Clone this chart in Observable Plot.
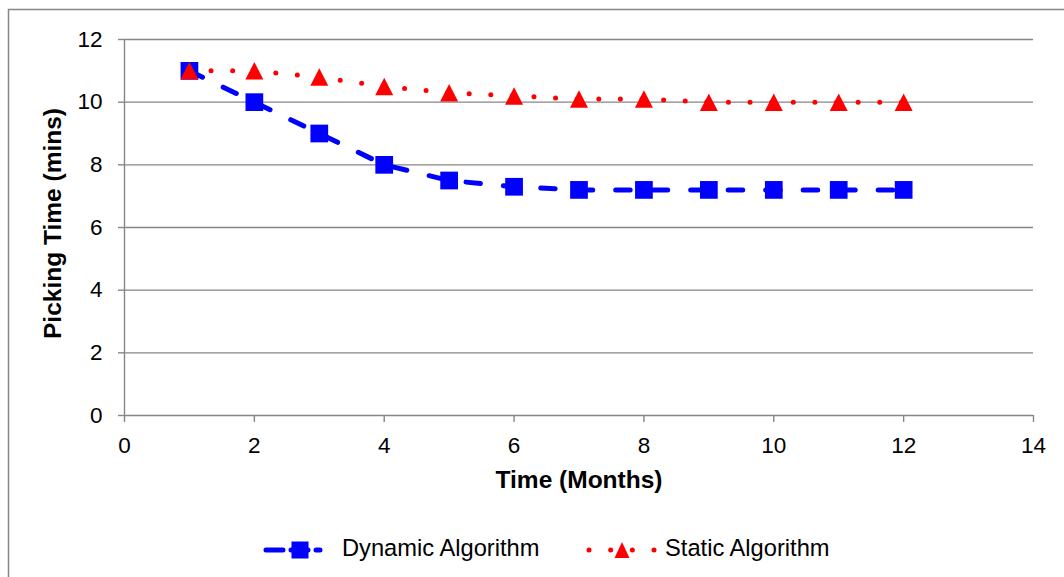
<!DOCTYPE html>
<html>
<head>
<meta charset="utf-8">
<script src="https://cdn.jsdelivr.net/npm/d3@7"></script>
<script src="https://cdn.jsdelivr.net/npm/@observablehq/plot@0.6"></script>
<style>
  html, body { margin: 0; padding: 0; background: #fff; overflow: hidden; width: 1064px; height: 577px; }
  #wrap { position: relative; width: 1064px; height: 577px; }
  #wrap svg { position: absolute; left: 0; top: 0; }
</style>
</head>
<body>
<div id="wrap"></div>
<script>
// ---- data ----
const months = [1, 2, 3, 4, 5, 6, 7, 8, 9, 10, 11, 12];
const dynamicTime = [11, 10, 9, 8, 7.5, 7.3, 7.2, 7.2, 7.2, 7.2, 7.2, 7.2];
const staticTime = [11, 11, 10.8, 10.5, 10.3, 10.2, 10.1, 10.1, 10.0, 10.0, 10.0, 10.0];
const xTicks = [0, 2, 4, 6, 8, 10, 12, 14];
const yTicks = [0, 2, 4, 6, 8, 10, 12];
const seriesNames = ["Dynamic Algorithm", "Static Algorithm"];
const xTitle = "Time (Months)";
const yTitle = "Picking Time (mins)";

const BLUE = "#0000ff", RED = "#ff0000", GRAY = "#868686";
const FONT = "'Liberation Sans', Arial, Helvetica, sans-serif";

const dyn = months.map((m, i) => ({month: m, time: dynamicTime[i]}));
const stat = months.map((m, i) => ({month: m, time: staticTime[i]}));

// triangle centred on its bounding box (like spreadsheet markers)
const triangle = {
  draw(ctx, size) {
    const r = Math.sqrt(size / Math.PI);
    const h = r * 0.97;
    ctx.moveTo(0, -h);
    ctx.lineTo(r, h);
    ctx.lineTo(-r, h);
    ctx.closePath();
  }
};

const chart = Plot.plot({
  width: 1064,
  height: 577,
  marginLeft: 124,
  marginRight: 31,
  marginTop: 39,
  marginBottom: 162,
  x: {domain: [0, 14]},
  y: {domain: [0, 12]},
  style: {fontFamily: FONT, fontSize: "22.5px", color: "#000", background: "transparent", overflow: "visible"},
  marks: [
    Plot.gridY(yTicks.filter(t => t > 0), {stroke: GRAY, strokeOpacity: 1, strokeWidth: 1.4}),
    Plot.ruleX([0], {stroke: GRAY, strokeWidth: 1.4}),
    Plot.ruleY([0], {stroke: GRAY, strokeWidth: 1.4}),
    Plot.axisY(yTicks, {tickSize: 6, tickPadding: 16, stroke: GRAY, strokeWidth: 1.4, label: null, fontSize: 22.5}),
    Plot.axisX(xTicks, {tickSize: 7, tickPadding: 15, stroke: GRAY, strokeWidth: 1.4, label: null, fontSize: 22.5}),
    Plot.line(dyn, {x: "month", y: "time", stroke: BLUE, strokeWidth: 5, strokeDasharray: "14.5,23", strokeLinecap: "round"}),
    Plot.dot(dyn, {x: "month", y: "time", symbol: "square", r: 10, fill: BLUE}),
    Plot.line(stat, {x: "month", y: "time", stroke: RED, strokeWidth: 5, strokeDasharray: "0,21.62", strokeLinecap: "round"}),
    Plot.dot(stat, {x: "month", y: "time", symbol: triangle, r: 9, fill: RED}),
    Plot.text([xTitle], {text: d => d, frameAnchor: "bottom", dy: 65, textAnchor: "middle", lineAnchor: "middle", fontWeight: "bold", fontSize: 24.5, fill: "#000"}),
    Plot.text([yTitle], {text: d => d, frameAnchor: "left", dx: -71, dy: -4, rotate: -90, textAnchor: "middle", lineAnchor: "middle", fontWeight: "bold", fontSize: 24.5, fill: "#000"})
  ]
});
document.getElementById("wrap").appendChild(chart);

// ---- outer border and legend overlay ----
const ov = d3.select("#wrap").append("svg")
  .attr("width", 1064).attr("height", 577)
  .style("pointer-events", "none");

ov.append("rect")
  .attr("x", 8.5).attr("y", 9.5).attr("width", 1200).attr("height", 1200)
  .attr("fill", "none").attr("stroke", GRAY).attr("stroke-width", 1.5);

const legY = 550;
// Dynamic swatch
const g1 = ov.append("g");
g1.append("line").attr("x1", 266).attr("x2", 320).attr("y1", legY).attr("y2", legY)
  .attr("stroke", BLUE).attr("stroke-width", 5).attr("stroke-linecap", "round")
  .attr("stroke-dasharray", "17,8");
g1.append("rect").attr("x", 291.5).attr("y", legY - 8.5).attr("width", 17).attr("height", 17).attr("fill", BLUE);
g1.append("text").attr("x", 342).attr("y", 556).attr("font-family", FONT).attr("font-size", 23.7)
  .attr("fill", "#000").text(seriesNames[0]);

// Static swatch
const g2 = ov.append("g");
g2.append("line").attr("x1", 589).attr("x2", 655).attr("y1", legY).attr("y2", legY)
  .attr("stroke", RED).attr("stroke-width", 5).attr("stroke-linecap", "round")
  .attr("stroke-dasharray", "0,21.67");
g2.append("path").attr("d", `M622,${legY - 8}L629.5,${legY + 8}L614.5,${legY + 8}Z`).attr("fill", RED);
g2.append("text").attr("x", 665).attr("y", 556).attr("font-family", FONT).attr("font-size", 23.7)
  .attr("fill", "#000").text(seriesNames[1]);
</script>
</body>
</html>
